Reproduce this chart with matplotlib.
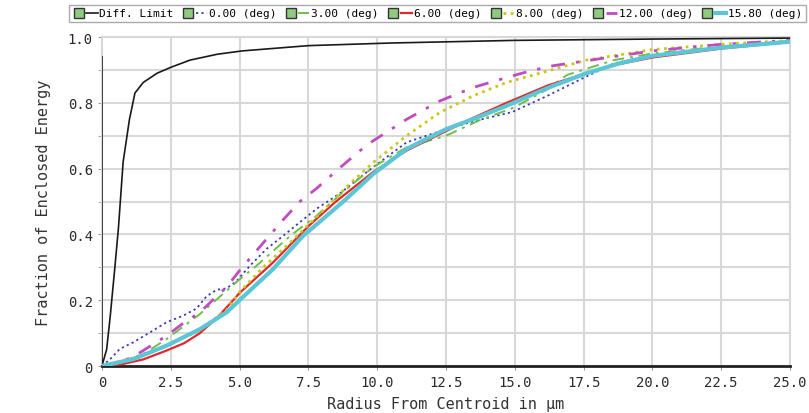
import matplotlib
matplotlib.use('Agg')
import matplotlib.pyplot as plt
from matplotlib.lines import Line2D
from matplotlib.legend_handler import HandlerTuple
from matplotlib.ticker import MultipleLocator, FuncFormatter

plt.rcParams['font.family'] = ['DejaVu Sans Mono', 'DejaVu Sans']

# data (radius in um, enclosed energy fraction)
diff_x = [0, 0, 0.17, 0.3, 0.47, 0.6, 0.77, 1.0, 1.2, 1.5, 2.0, 2.5, 3.2, 4.2, 5.1, 7.5, 10.5, 15, 20, 25]
diff_y = [0.94, 0, 0.05, 0.15, 0.3, 0.42, 0.62, 0.75, 0.83, 0.862, 0.89, 0.908, 0.93, 0.948, 0.958,
          0.974, 0.982, 0.99, 0.994, 0.997]

d00_x = [0, 0.29, 0.65, 1.14, 1.74, 2.35, 2.95, 3.44, 3.8, 4.17, 4.53, 4.89, 5.38, 5.98, 6.59, 7.19,
         7.8, 8.65, 9.86, 11.07, 12.5, 13.7, 14.9, 16.2, 17.4, 18.6, 20, 22.5, 25]
d00_y = [0, 0.02, 0.052, 0.072, 0.102, 0.133, 0.153, 0.175, 0.212, 0.232, 0.236, 0.258, 0.305, 0.356,
         0.396, 0.437, 0.478, 0.525, 0.605, 0.68, 0.72, 0.748, 0.772, 0.822, 0.872, 0.92, 0.945, 0.97, 0.988]

d03_x = [0, 0.7, 1.5, 2.35, 3.56, 4.53, 5.01, 5.62, 6.83, 7.8, 8.77, 9.86, 11.07, 12.5, 13.74, 14.95,
         16.16, 16.9, 18.6, 20, 22.5, 25]
d03_y = [0, 0.01, 0.036, 0.082, 0.158, 0.229, 0.264, 0.305, 0.395, 0.457, 0.53, 0.605, 0.665, 0.7,
         0.748, 0.785, 0.84, 0.885, 0.93, 0.95, 0.972, 0.988]

d06_x = [0, 0.7, 1.5, 2.35, 3.0, 3.56, 4.2, 4.77, 5.0, 6.22, 7.5, 8.5, 9.86, 11.07, 12.28, 13.5, 14.7,
         16.2, 17.6, 18.8, 20, 22.5, 25]
d06_y = [0, 0.005, 0.02, 0.047, 0.07, 0.1, 0.148, 0.2, 0.222, 0.315, 0.425, 0.5, 0.59, 0.655, 0.705,
         0.755, 0.8, 0.853, 0.89, 0.918, 0.938, 0.965, 0.985]

d08_x = [0, 1.14, 2.35, 3.56, 4.53, 5.0, 5.86, 6.83, 8.0, 9.0, 9.86, 11.07, 12.28, 13.5, 14.7, 15.9,
         17.6, 20, 22.5, 25]
d08_y = [0, 0.025, 0.06, 0.11, 0.17, 0.225, 0.3, 0.375, 0.47, 0.553, 0.619, 0.7, 0.771, 0.822, 0.862,
         0.89, 0.93, 0.962, 0.978, 0.99]

d12_x = [0, 0.5, 1.14, 2.35, 2.95, 3.56, 4.17, 4.53, 5.0, 5.98, 6.59, 7.19, 7.8, 8.65, 9.38, 9.86,
         11.07, 12.28, 13.5, 14.7, 15.6, 16.4, 17.6, 18.8, 20, 22.5, 25]
d12_y = [0, 0.008, 0.028, 0.092, 0.13, 0.163, 0.212, 0.24, 0.29, 0.386, 0.445, 0.5, 0.54, 0.603, 0.655,
         0.685, 0.75, 0.806, 0.847, 0.877, 0.898, 0.913, 0.928, 0.943, 0.958, 0.978, 0.99]

d158_x = [0, 1.14, 2.35, 3.56, 4.53, 5.0, 6.22, 7.3, 8.77, 9.86, 11.07, 12.5, 13.5, 14.7, 15.9, 16.4,
          17.6, 18.8, 20, 22.5, 25]
d158_y = [0, 0.021, 0.062, 0.112, 0.163, 0.2, 0.295, 0.395, 0.5, 0.584, 0.66, 0.72, 0.751, 0.791, 0.835,
          0.852, 0.89, 0.92, 0.943, 0.968, 0.986]

labels = ['Diff. Limit', '0.00 (deg)', '3.00 (deg)', '6.00 (deg)', '8.00 (deg)', '12.00 (deg)', '15.80 (deg)']

fig = plt.figure(figsize=(8.09, 4.14), dpi=100)
ax = fig.add_axes([0.126, 0.1135, 0.8505, 0.7945])

grid_c = '#d8d8d8'
series = [
    (diff_x, diff_y, dict(color='#1a1a1a', lw=1.2, ls='-')),
    (d00_x, d00_y, dict(color='#3a3ab8', lw=1.3, ls=(0, (1.2, 1.8)))),
    (d03_x, d03_y, dict(color='#6cc04a', lw=1.4, ls=(0, (6, 3, 1.5, 3)))),
    (d06_x, d06_y, dict(color='#e3262b', lw=1.6, ls='-')),
    (d08_x, d08_y, dict(color='#c9c814', lw=2.0, ls=(0, (1, 1.6)))),
    (d12_x, d12_y, dict(color='#c04cc0', lw=2.0, ls=(0, (5, 4, 1.2, 4)))),
    (d158_x, d158_y, dict(color='#5cc6d6', lw=3.0, ls='-')),
]
handles = []
for xs, ys, st in series:
    ax.plot(xs, ys, zorder=3, **st)
    box = Line2D([], [], ls='none', marker='s', markersize=7, markerfacecolor='#8fcb7e',
                 markeredgecolor='#333333', markeredgewidth=1.0)
    ln = Line2D([], [], **st)
    handles.append((box, ln))

ax.set_xlim(0, 25)
ax.set_ylim(0, 1)
ax.xaxis.set_major_locator(MultipleLocator(2.5))
ax.yaxis.set_major_locator(MultipleLocator(0.2))
ax.yaxis.set_minor_locator(MultipleLocator(0.1))
fmt = FuncFormatter(lambda v, p: '0' if abs(v) < 1e-9 else f'{v:.1f}')
ax.xaxis.set_major_formatter(fmt)
ax.yaxis.set_major_formatter(fmt)
ax.grid(True, which='both', color=grid_c, lw=1.5, zorder=0)
ax.set_axisbelow(True)
ax.tick_params(axis='both', which='both', length=3, color='#999999', labelsize=10, labelcolor='#2a2a2a')

for s in ['top', 'right', 'left']:
    ax.spines[s].set_color(grid_c)
    ax.spines[s].set_linewidth(1.5)
ax.spines['bottom'].set_color('#222222')
ax.spines['bottom'].set_linewidth(2.0)

ax.set_xlabel('Radius From Centroid in µm', fontsize=11, color='#333333', labelpad=5)
ax.set_ylabel('Fraction of Enclosed Energy', fontsize=11, color='#333333', labelpad=12)

fig.legend(handles, labels, loc='upper center', bbox_to_anchor=(0.541, 1.0), ncol=7,
           fontsize=8, frameon=True, fancybox=False, edgecolor='#aaaaaa', framealpha=1,
           handler_map={tuple: HandlerTuple(ndivide=2, pad=0.15)},
           handlelength=2.2, handletextpad=0.15, columnspacing=0.8, borderpad=0.35)

fig.savefig('out.png', dpi=100)
